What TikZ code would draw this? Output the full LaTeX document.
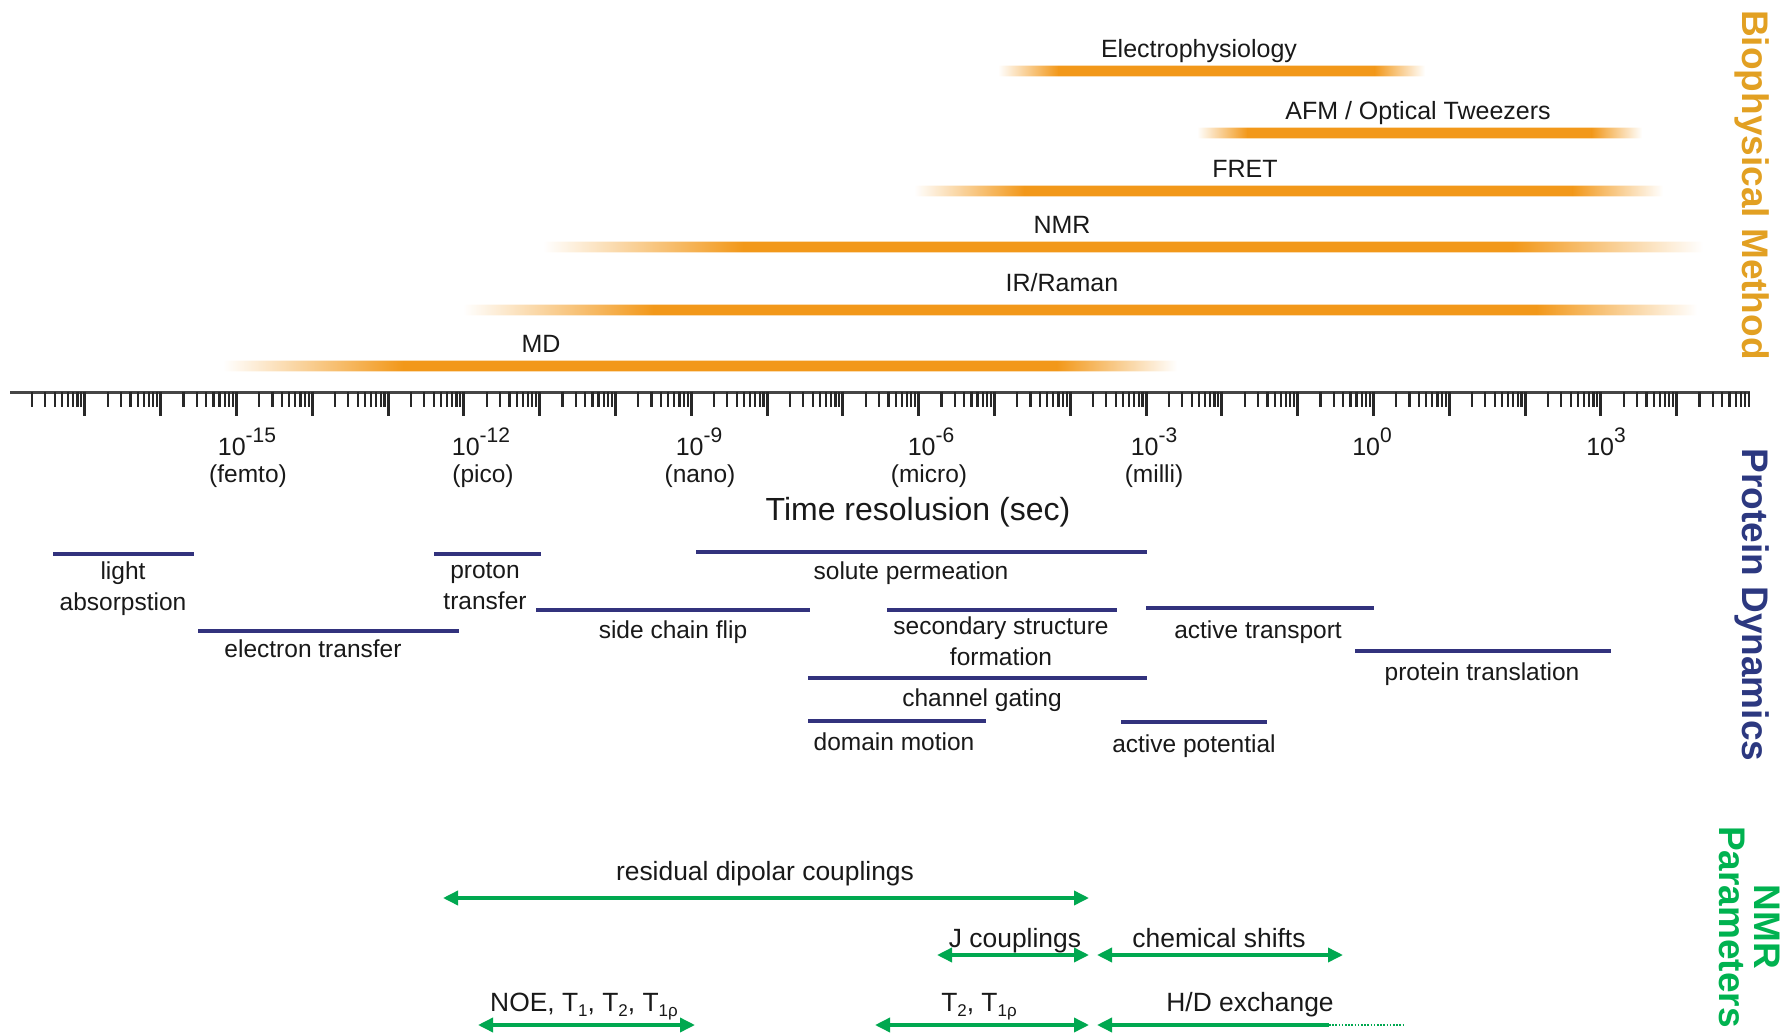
\documentclass[tikz,border=0pt]{standalone}
\usepackage{fontspec}
\setmainfont{Liberation Sans}
\usetikzlibrary{arrows.meta}
\definecolor{barc}{RGB}{242,152,26}
\definecolor{methodc}{RGB}{226,160,34}
\definecolor{dync}{RGB}{44,56,128}
\definecolor{linec}{RGB}{50,50,125}
\definecolor{nmrc}{RGB}{0,168,80}
\definecolor{nmrtext}{RGB}{0,178,80}
\definecolor{txt}{RGB}{25,25,25}
\definecolor{axisc}{RGB}{70,70,70}
\definecolor{tickc}{RGB}{40,40,40}
\newcommand{\myfs}[1]{\fontsize{#1}{#1}\selectfont}
\newcommand{\lowsub}[1]{\raisebox{-0.2em}{\myfs{17}#1}}
\newcommand{\expo}[1]{\raisebox{0.5em}{\myfs{21}#1}}
\newcommand{\obar}[5]{%
  \foreach \barh/\barcol in {5.8/35,4.6/100}{%
    \shade[left color=white,right color=barc!\barcol] ({#1},{#3-\barh}) rectangle ({#1+#4+0.5},{#3+\barh});
    \fill[barc!\barcol] ({#1+#4},{#3-\barh}) rectangle ({#2-#5},{#3+\barh});
    \shade[left color=barc!\barcol,right color=white] ({#2-#5-0.5},{#3-\barh}) rectangle ({#2},{#3+\barh});
  }}
\begin{document}
\begin{tikzpicture}[x=1pt,y=-1pt,
  methodlab/.style={font=\myfs{25}, text=txt, anchor=base, inner sep=0pt},
  dynlab/.style={font=\myfs{24.5}, text=txt, anchor=base, inner sep=0pt},
  dynlabtwo/.style={font=\fontsize{24.5}{31}\selectfont, text=txt, anchor=north, inner sep=0pt, align=center},
  dynline/.style={draw=linec, line width=3.5pt},
  nmrlab/.style={font=\myfs{26.4}, text=txt, anchor=base, inner sep=0pt},
  nmrarrow/.style={draw=nmrc, line width=3.5pt, {Triangle[length=15pt,width=14pt]}-{Triangle[length=15pt,width=14pt]}},
  nmrarrowleft/.style={draw=nmrc, line width=3.5pt, {Triangle[length=15pt,width=14pt]}-},
  nmrdots/.style={draw=nmrc, line width=1.6pt, dash pattern=on 1.6pt off 1.6pt},
  ticklab/.style={font=\myfs{25}, text=txt, anchor=base, inner sep=0pt},
  prefixlab/.style={font=\myfs{24.5}, text=txt, anchor=base, inner sep=0pt},
  sidetitle/.style={font=\bfseries\myfs{37}, rotate=-90, inner sep=0pt, align=center},
  axisline/.style={draw=axisc, line width=3pt},
  shorttick/.style={draw=tickc, line width=2.2pt},
  longtick/.style={draw=tickc, line width=3pt},
]
\useasboundingbox (0,0) rectangle (1792,1035);
\fill[white] (0,0) rectangle (1792,1035);

% ---------- Biophysical method bars ----------
\obar{998}{1425}{71}{60}{50}
\obar{1197}{1642}{133}{50}{50}
\obar{914}{1663}{191}{110}{90}
\obar{543}{1703}{247}{200}{190}
\obar{463}{1697}{310}{190}{160}
\obar{223}{1177}{366}{180}{120}

\node[methodlab] (ep) at (1199,58) {Electrophysiology};
\node[methodlab] (afm) at (1418,120) {AFM / Optical Tweezers};
\node[methodlab] (fret) at (1245,178) {FRET};
\node[methodlab] (nmr) at (1062,234) {NMR};
\node[methodlab] (ir) at (1062,291) {IR/Raman};
\node[methodlab] (md) at (541,352) {MD};

% ---------- axis ----------
\coordinate (axL) at (10,392);
\coordinate (axR) at (1750,392);
\draw[axisline] (axL) -- (axR);
\foreach \e in {-18,...,4}{
  \pgfmathsetmacro{\xz}{9+(\e+18)*75.8}
  \foreach \k in {2,...,9}{
    \draw[shorttick] ({\xz+75.8*log10(\k)},392) -- ++(0,15);
  }
  \ifnum\e>-18 \draw[longtick] (\xz,392) -- ++(0,24);\fi
}

\node[ticklab] (e15) at (247,455) {10\expo{-15}};
\node[ticklab] (e12) at (481,455) {10\expo{-12}};
\node[ticklab] (e9) at (699,455) {10\expo{-9}};
\node[ticklab] (e6) at (931,455) {10\expo{-6}};
\node[ticklab] (e3) at (1154,455) {10\expo{-3}};
\node[ticklab] (e0) at (1372,455) {10\expo{0}};
\node[ticklab] (p3) at (1606,455) {10\expo{3}};

\node[prefixlab] (femto) at (248,482) {(femto)};
\node[prefixlab] (pico) at (483,482) {(pico)};
\node[prefixlab] (nano) at (700,482) {(nano)};
\node[prefixlab] (micro) at (929,482) {(micro)};
\node[prefixlab] (milli) at (1154,482) {(milli)};

\node[font=\myfs{32}, text=txt, anchor=base, inner sep=0pt] (tres) at (918,520) {Time resolusion (sec)};

% ---------- protein dynamics ----------
\coordinate (laL) at (53,554);   \coordinate (laR) at (194,554);
\coordinate (etL) at (198,631);  \coordinate (etR) at (459,631);
\coordinate (ptL) at (434,554);  \coordinate (ptR) at (541,554);
\coordinate (scL) at (536,610);  \coordinate (scR) at (810,610);
\coordinate (spL) at (696,552);  \coordinate (spR) at (1147,552);
\coordinate (ssL) at (887,610);  \coordinate (ssR) at (1117,610);
\coordinate (atL) at (1146,608); \coordinate (atR) at (1374,608);
\coordinate (trL) at (1355,651); \coordinate (trR) at (1611,651);
\coordinate (cgL) at (808,678);  \coordinate (cgR) at (1147,678);
\coordinate (dmL) at (808,721);  \coordinate (dmR) at (986,721);
\coordinate (apL) at (1121,722); \coordinate (apR) at (1267,722);
\foreach \a in {la,et,pt,sc,sp,ss,at,tr,cg,dm,ap}{
  \draw[dynline] (\a L) -- (\a R);
}

\node[dynlabtwo] (la) at (123,562) {light\\absorpstion};
\node[dynlab] (et) at (313,657.5) {electron transfer};
\node[dynlabtwo] (pt) at (485,562) {proton\\transfer};
\node[dynlab] (sc) at (673,638) {side chain flip};
\node[dynlab] (sp) at (911,579) {solute permeation};
\node[dynlabtwo] (ss) at (1001,616.5) {secondary structure\\formation};
\node[dynlab] (at) at (1258,638.5) {active transport};
\node[dynlab] (tr) at (1482,680.5) {protein translation};
\node[dynlab] (cg) at (982,706.5) {channel gating};
\node[dynlab] (dm) at (894,750.5) {domain motion};
\node[dynlab] (ap) at (1194,752.5) {active potential};

% ---------- NMR parameters ----------
\coordinate (rdcL) at (443,898);  \coordinate (rdcR) at (1089,898);
\coordinate (jcL) at (937,955);   \coordinate (jcR) at (1089,955);
\coordinate (csL) at (1097,955);  \coordinate (csR) at (1343,955);
\coordinate (noeL) at (478,1025); \coordinate (noeR) at (695,1025);
\coordinate (ttL) at (875,1025);  \coordinate (ttR) at (1089,1025);
\coordinate (hdL) at (1097,1025); \coordinate (hdM) at (1329,1025);
\coordinate (hdR) at (1403,1025);
\draw[nmrarrow] (rdcL) -- (rdcR);
\draw[nmrarrow] (jcL) -- (jcR);
\draw[nmrarrow] (csL) -- (csR);
\draw[nmrarrow] (noeL) -- (noeR);
\draw[nmrarrow] (ttL) -- (ttR);
\draw[nmrarrowleft] (hdL) -- (hdM);
\draw[nmrdots] (hdM) -- (hdR);

\node[nmrlab] (rdc) at (765,880) {residual dipolar couplings};
\node[nmrlab] (jc) at (1015,947) {J couplings};
\node[nmrlab] (cs) at (1219,947) {chemical shifts};
\node[nmrlab] (noe) at (584,1011) {NOE, T\lowsub{1}, T\lowsub{2}, T\lowsub{1ρ}};
\node[nmrlab] (tt) at (979,1011) {T\lowsub{2}, T\lowsub{1ρ}};
\node[nmrlab] (hd) at (1250,1011) {H/D exchange};

% ---------- side titles ----------
\node[sidetitle, text=methodc] (bm) at (1752,185) {Biophysical Method};
\node[sidetitle, text=dync] (pd) at (1752,605) {Protein Dynamics};
\node[sidetitle, text=nmrtext, font=\bfseries\fontsize{37}{35}\selectfont] (np) at (1750,927) {NMR\\Parameters};
\end{tikzpicture}
\end{document}
